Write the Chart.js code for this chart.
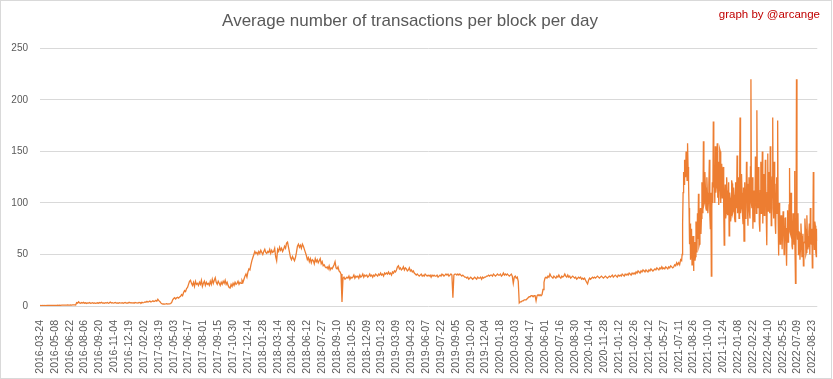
<!DOCTYPE html>
<html>
<head>
<meta charset="utf-8">
<script src="https://cdn.jsdelivr.net/npm/chart.js@4/dist/chart.umd.min.js"></script>
<style>
  html, body { margin: 0; padding: 0; background: #ffffff; }
  #wrap { position: absolute; left: 0; top: 0; width: 830px; height: 377px; border: 1px solid #d9d9d9; background: #fff; }
  #credit { position: absolute; right: 11px; top: 7px; font-family: "Liberation Sans", Arial, sans-serif; font-size: 11.5px; color: #c00000; }
</style>
</head>
<body>
<div id="wrap">
  <canvas id="c" width="830" height="377"></canvas>
  <div id="credit">graph by @arcange</div>
</div>
<script>
// Tick labels (one every 15 samples, samples every 3 days)
const tickLabels = [
  "2016-03-24","2016-05-08","2016-06-22","2016-08-06","2016-09-20","2016-11-04","2016-12-19",
  "2017-02-02","2017-03-19","2017-05-03","2017-06-17","2017-08-01","2017-09-15","2017-10-30","2017-12-14",
  "2018-01-28","2018-03-14","2018-04-28","2018-06-12","2018-07-27","2018-09-10","2018-10-25","2018-12-09",
  "2019-01-23","2019-03-09","2019-04-23","2019-06-07","2019-07-22","2019-09-05","2019-10-20","2019-12-04",
  "2020-01-18","2020-03-03","2020-04-17","2020-06-01","2020-07-16","2020-08-30","2020-10-14","2020-11-28",
  "2021-01-12","2021-02-26","2021-04-12","2021-05-27","2021-07-11","2021-08-26","2021-10-10","2021-11-24",
  "2022-01-08","2022-02-22","2022-04-10","2022-05-25","2022-07-09","2022-08-23"
];

// Average transactions per block, sampled every ~3 days: 2016-2017
const valuesA = [
  0.3,0.4,0.3,0.5,0.4,0.5,0.4,0.6,0.5,0.5,
  0.6,0.5,0.6,0.7,0.6,0.7,0.6,0.7,0.8,0.7,
  0.8,0.7,0.8,0.9,0.8,0.9,0.8,0.9,1.0,0.9,
  0.9,1.0,0.9,1.0,1.0,1.1,1.0,3.2,2.8,4.1,
  3.0,2.6,3.3,2.9,3.5,2.7,3.1,2.5,3.0,2.8,
  3.4,2.6,2.9,3.2,2.7,3.0,2.5,2.8,3.1,2.6,
  3.3,2.9,3.6,2.8,3.0,2.7,3.2,2.9,3.4,2.7,
  3.1,3.8,2.9,3.2,2.8,3.0,3.5,2.9,3.1,2.7,
  3.3,3.0,2.8,3.2,2.6,3.0,3.4,2.9,3.1,2.8,
  3.6,3.0,3.3,2.9,3.2,2.7,3.4,3.0,3.1,2.9,
  3.5,3.2,2.8,3.6,3.1,3.4,4.0,3.7,4.5,3.9,
  4.2,4.8,3.9,4.4,5.1,4.3,4.7,5.5,4.6,6.5,
  5.2,4.4,3.0,2.2,1.9,2.1,1.8,2.0,2.3,1.9,
  2.1,2.0,2.4,3.5,6.0,7.2,8.0,6.8,7.9,8.4,
  7.6,8.8,9.5,11,10,13,15,14,17,18,
  21,24,25,22,20,23,19,24,21,22,
  20,23,21,25,19,22,24,20,23,21,
  22,20,24,21,26,22,25,27.5,23,21,
  24,22,20,23,21,24,22,25,21,23,
  20,18,17.5,21,19,22,20,23,21,22
];
// 2018-2019
const valuesB = [
  24,21,23,22,25,23,26,29,31,28,
  33,36,35,40,44,47,50,53,51,52,
  50,53,51,54,52,50,53,55,52,51,
  53,52,55,51,54,52,53,56,48,44,
  55,53,57,54,56,53,55,58,56,61,
  62,57,52,47,45,48,46,44,47,52,
  58,60,57,59,56,60,58,55,52,49,
  45,47,43,46,42,45,44,41,46,43,
  45,42,44,46,41,43,39,40,38,37,
  38,36,39,35,37,36,38,40,43,37,
  36,38,34,33,31,4,27,28,26,27,
  28,27,29,26,28,27,28,30,27,29,
  28,29,27,30,28,29,31,28,30,29,
  30,28,29,31,29,30,28,30,29,31,
  30,29,31,30,32,30,31,29,32,31,
  32,31,33,31,32,30,33,32,34,33,
  35,38,39,36,37,35,36,38,35,37,
  36,34,35,37,34,35,33,34,32,31,
  30,31,30,29,30,31,29,30,29,31,
  30,29,30,29,30,28,30,29,30,29
];
// 2020 - early 2021
const valuesC = [
  29,30,28,29,30,29,31,30,29,30,
  31,30,31,29,30,31,30,8,30,31,
  31,30,31,30,31,30,29,30,29,28,
  28,27,28,26,27,28,27,26,27,28,
  27,26,28,27,27,28,26,28,27,28,
  28,29,29,30,29,30,30,29,31,30,
  29,30,31,30,30,31,29,30,32,30,
  31,30,31,30,29,30,31,29,22,28,
  29,27,28,24,3,4,4,5,5,6,
  6,6,7,8,9,9,10,10,9,10,
  10,5,10,11,10,11,10,11,16,23,
  27,28,27,29,28,31,29,28,27,29,
  28,27,29,28,30,28,27,29,28,29,
  31,29,28,30,28,29,27,28,29,28,
  27,28,26,27,28,27,28,26,27,26,
  27,25,23,21.5,25,27,26,27,28,27,
  28,27,28,29,28,27,28,29,28,27,
  28,29,28,27,28,29,28,29,30,28,
  29,30,29,28,30,29,30,29,31,30,
  29,31,30,31,30,32,31,30,32,31
];
// first half of 2021 (3-day samples)
const valuesD = [
  32,31,33,32,34,33,32,34,33,35,
  34,33,35,34,33,35,34,36,35,34,
  35,36,35,37,36,35,37,36,38,36,
  37,36,38,37,36,38,37,39,38,37,
  38,40,39,42,40,42,40,45
];
// mid 2021 - 2022, volatile period (1.5-day samples)
const valuesE = [
  44,50, 80,110, 130,118, 142,128, 125,150, 140,122, 158,135, 120,95, 60,80, 45,62,
  75,40, 50,68, 34,55, 62,44, 48,82, 70,52, 90,65, 109,58, 60,88, 95,70,
  85,120, 105,90, 160,98, 100,130, 115,95, 93,125, 110,90, 100,118, 142,88, 75,110,
  29,95, 120,100, 179,115, 130,100, 155,110, 115,145, 158,105, 140,98, 112,152, 150,100,
  125,138, 105,128, 135,95, 59,105, 118,85, 90,125, 112,88, 95,120, 68,110, 105,82,
  88,122, 119,90, 92,115, 108,85, 82,120, 114,95, 146,90, 100,125, 85,108, 183,90,
  95,128, 110,88, 80,115, 63,98, 120,85, 90,140, 130,95, 78,118, 125,92, 85,135,
  220,100, 95,125, 75,108, 112,82, 88,145, 130,90, 190,105, 95,135, 120,80, 72,112,
  140,90, 105,150, 80,118, 128,88, 95,142, 120,85, 59,110, 148,92, 110,130, 90,155,
  135,78, 100,125, 183,95, 85,140, 115,80, 70,118, 125,90, 180,85, 49,100, 95,60,
  70,88, 84,55, 55,92, 78,50, 60,85, 86,58, 39,75, 93,62, 65,98, 134,72,
  70,110, 85,58, 55,90, 80,60, 131,70, 22,55, 220,80, 65,90, 50,72, 71,45,
  55,80, 68,48, 48,70, 39,60, 62,85, 75,50, 52,88, 68,55, 58,72, 80,50,
  95,62, 60,75, 37,58, 130,70, 55,82, 78,52, 48,75, 63
];
const yTicks = [0, 50, 100, 150, 200, 250];

const coarse = [...valuesA, ...valuesB, ...valuesC, ...valuesD];
const points = coarse.map((v, i) => ({ x: i, y: v }))
  .concat(valuesE.map((v, k) => ({ x: coarse.length + k / 2, y: v })));
const xMax = points[points.length - 1].x;
const STEP = 15;

const FONT = '"Liberation Sans", Arial, sans-serif';

new Chart(document.getElementById('c'), {
  type: 'line',
  data: {
    datasets: [{
      data: points,
      borderColor: '#ED7D31',
      borderWidth: 1.3,
      pointRadius: 0,
      tension: 0,
      fill: false
    }]
  },
  options: {
    responsive: false,
    animation: false,
    parsing: false,
    layout: { padding: { left: 0, right: 12, top: 0, bottom: 0 } },
    plugins: {
      legend: { display: false },
      tooltip: { enabled: false },
      title: {
        display: true,
        text: 'Average number of transactions per block per day',
        color: '#595959',
        font: { family: FONT, size: 17, weight: 'normal' },
        padding: { top: 10, bottom: 17 }
      }
    },
    scales: {
      x: {
        type: 'linear',
        min: 0,
        max: xMax,
        grid: { display: false },
        border: { display: false },
        ticks: {
          stepSize: STEP,
          includeBounds: false,
          autoSkip: false,
          maxRotation: 90,
          minRotation: 90,
          padding: 6,
          color: '#595959',
          font: { family: FONT, size: 10.5 },
          callback: (v) => (v % STEP === 0 ? (tickLabels[v / STEP] || '') : '')
        },
        afterFit: (s) => { s.height = 72; }
      },
      y: {
        min: yTicks[0],
        max: yTicks[yTicks.length - 1],
        grid: { color: '#D9D9D9', drawTicks: false, lineWidth: 1 },
        border: { display: false },
        afterBuildTicks: (s) => { s.ticks = yTicks.map(v => ({ value: v })); },
        ticks: {
          padding: 12,
          color: '#595959',
          font: { family: FONT, size: 10 }
        },
        afterFit: (s) => { s.width = 39; }
      }
    }
  }
});
</script>
</body>
</html>
